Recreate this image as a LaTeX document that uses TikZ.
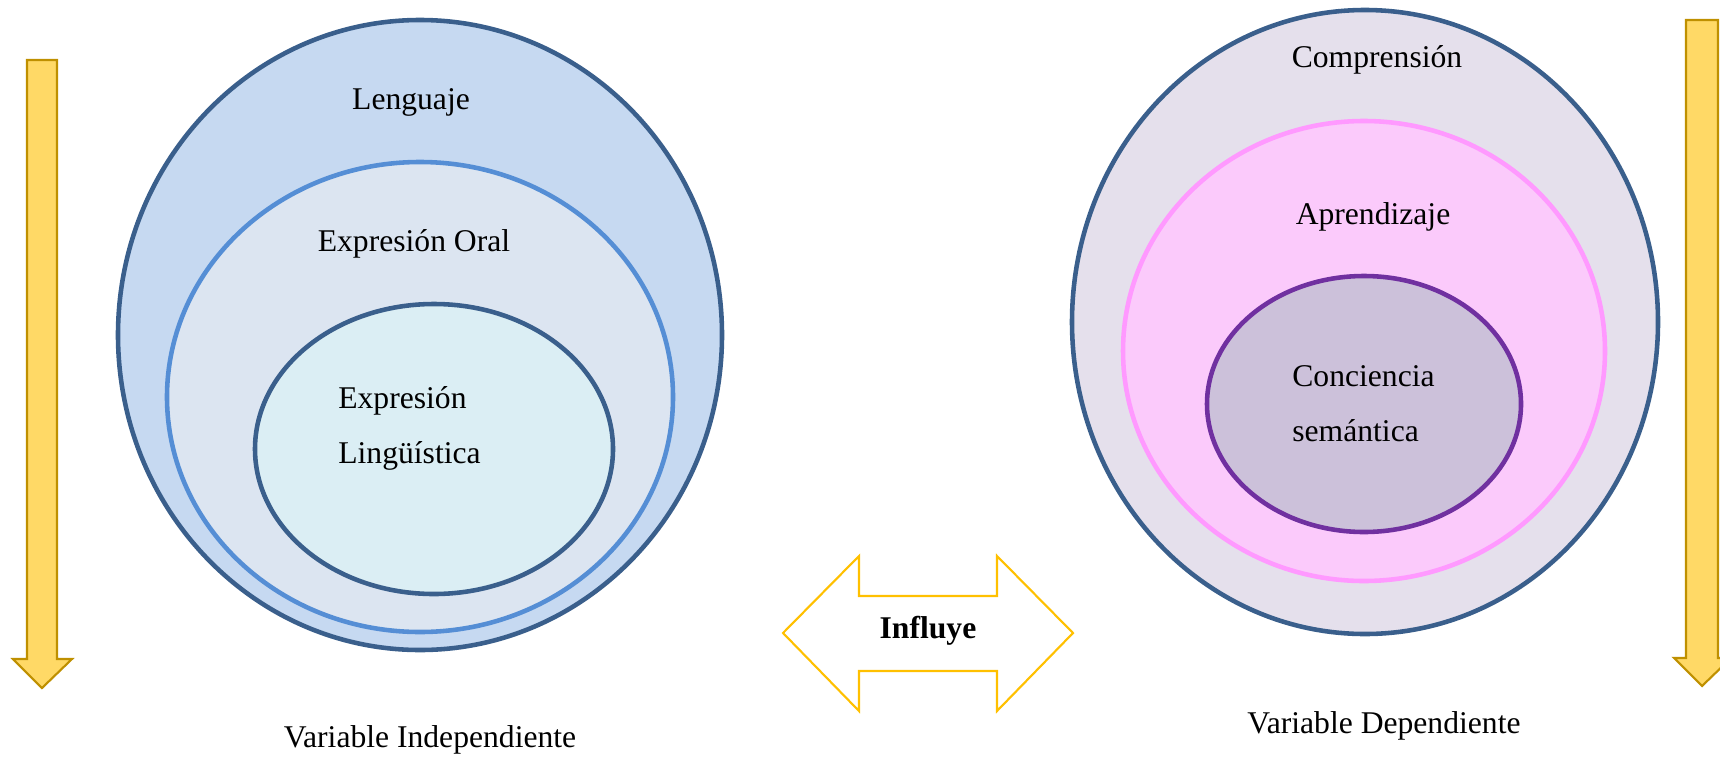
\documentclass[tikz,border=0pt]{standalone}
\usepackage{fontspec}
\setmainfont{Liberation Serif}
\usepackage{tikz}
\definecolor{bordeAzul}{HTML}{3A5F8C}
\definecolor{fondoLeng}{HTML}{C6D9F1}
\definecolor{fondoOral}{HTML}{DCE5F1}
\definecolor{bordeOral}{HTML}{558ED5}
\definecolor{fondoLing}{HTML}{DBEEF4}
\definecolor{fondoComp}{HTML}{E5E0EC}
\definecolor{fondoApre}{HTML}{FBCAFB}
\definecolor{bordeApre}{HTML}{FF99FF}
\definecolor{fondoConc}{HTML}{CCC1DA}
\definecolor{bordeConc}{HTML}{7030A0}
\definecolor{fondoFlecha}{HTML}{FFD966}
\definecolor{bordeFlecha}{HTML}{BF9000}
\definecolor{bordeInfl}{HTML}{FFC000}
\tikzset{
  texto/.style={font=\fontsize{18}{22}\selectfont, inner sep=0pt},
  flecha/.style={fill=fondoFlecha, draw=bordeFlecha, line width=1.2pt, line join=miter},
  anillo/.style={line width=2.6pt}
}

\begin{document}
\begin{tikzpicture}[x=0.02cm,y=-0.02cm]
\useasboundingbox (0,0) rectangle (1720,758);
% flechas laterales
\draw[flecha] (27,60) -- (57,60) -- (57,659) -- (72,659) -- (42,688) -- (13,659) -- (27,659) -- cycle;
\draw[flecha] (1686,20) -- (1718,20) -- (1718,658) -- (1731,658) -- (1702,686) -- (1674,658) -- (1686,658) -- cycle;
% variable independiente
\draw[anillo, fill=fondoLeng, draw=bordeAzul] (420,335) ellipse [x radius=302, y radius=315];
\draw[anillo, fill=fondoOral, draw=bordeOral] (420,397) ellipse [x radius=253, y radius=235];
\draw[anillo, fill=fondoLing, draw=bordeAzul] (434,449) ellipse [x radius=179, y radius=145];
\node[texto] (leng) at (411,102) {Lenguaje};
\node[texto] (oral) at (414,244) {Expresión Oral};
\node[texto, anchor=west] (expr) at (338,401) {Expresión};
\node[texto, anchor=west] (ling) at (338,456) {Lingüística};
% variable dependiente
\draw[anillo, fill=fondoComp, draw=bordeAzul] (1365,322) ellipse [x radius=293, y radius=312];
\draw[anillo, fill=fondoApre, draw=bordeApre] (1364,351) ellipse [x radius=241, y radius=230];
\draw[anillo, fill=fondoConc, draw=bordeConc] (1364,404) ellipse [x radius=157, y radius=128];
\node[texto] (comp) at (1377,60) {Comprensión};
\node[texto] (apre) at (1373,217) {Aprendizaje};
\node[texto, anchor=west] (conc) at (1292,376) {Conciencia};
\node[texto, anchor=west] (sema) at (1292,431) {semántica};
% influye
\draw[draw=bordeInfl, line width=1.2pt, fill=white] (783,633) -- (859,556) -- (859,596) -- (997,596) -- (997,556) -- (1073,633)
  -- (997,711) -- (997,671) -- (859,671) -- (859,711) -- cycle;
\node[texto, font=\fontsize{18}{22}\selectfont\bfseries] (infl) at (928,631) {Influye};
\node[texto] (vind) at (430,740) {Variable Independiente};
\node[texto] (vdep) at (1384,726) {Variable Dependiente};
\end{tikzpicture}
\end{document}
